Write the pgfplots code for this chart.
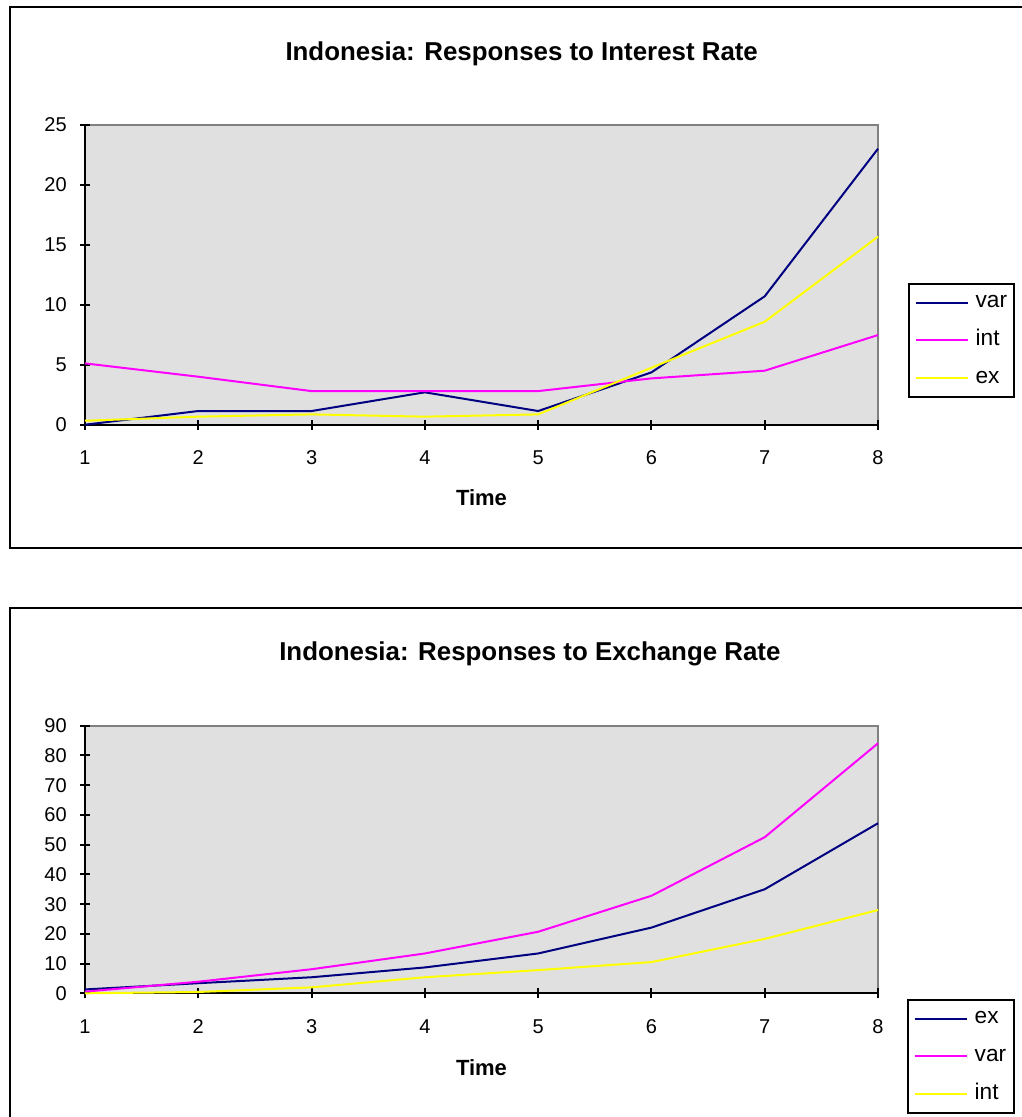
\documentclass[border=0pt]{standalone}
\usepackage{pgfplots}
\pgfplotsset{compat=1.18}
\usepackage{fontspec}
\setmainfont{Liberation Sans}
\definecolor{plotbg}{RGB}{224,224,224}
\definecolor{navyc}{RGB}{0,0,128}
\definecolor{magc}{RGB}{255,0,255}
\definecolor{yelc}{RGB}{255,255,0}
\definecolor{bordg}{RGB}{128,128,128}

\pgfplotsset{
  mystyle/.style={
    scale only axis,
    width=594.75pt,
    xmin=1, xmax=8,
    xtick={1,2,3,4,5,6,7,8},
    axis lines*=left,
    axis line style={black, line width=1.5pt, -},
    every outer x axis line/.append style={-},
    every outer y axis line/.append style={-},
    axis background/.style={fill=plotbg, draw=bordg, line width=1.5pt},
    tick align=center,
    major tick length=7.5pt,
    tick style={black, line width=1.5pt},
    /pgf/number format/assume math mode=true,
    ticklabel style={font=\fontsize{15}{18}\selectfont},
    yticklabel style={anchor=east, inner sep=0pt, xshift=-9.75pt},
    xticklabel style={anchor=north, inner sep=0pt, yshift=-15.5pt},
    title style={font=\bfseries\fontsize{19.4}{23}\selectfont, anchor=base},
    xlabel style={font=\bfseries\fontsize{16.5}{19}\selectfont, anchor=base},
    clip=false,
    legend cell align=left,
    legend image code/.code={\draw[#1] (0pt,0pt) -- (39pt,0pt);},
    legend style={draw=black, line width=1.5pt, fill=white,
      font=\fontsize{17}{20}\selectfont,
      inner xsep=4.5pt, inner ysep=6pt, row sep=11.8pt,
      nodes={inner sep=1pt, text height=11pt, text depth=3.5pt},
      /tikz/every odd column/.append style={column sep=4pt}},
  },
  ser/.style={line width=1.5pt, no markers, sharp plot},
}

\begin{document}
\begin{tikzpicture}
\useasboundingbox (0pt,0pt) rectangle (765.75pt,-837.75pt);
\draw[black, line width=1.5pt] (7.5pt,-5.5pt) rectangle (768pt,-411pt);
\draw[black, line width=1.5pt] (7.5pt,-456pt) rectangle (768pt,-842pt);

\begin{axis}[mystyle,
  at={(63.75pt,-318.525pt)}, anchor=south west,
  height=225pt,
  ymin=0, ymax=25, ytick={0,5,10,15,20,25},
  title={Indonesia: Responses to Interest Rate},
  title style={at={(axis description cs:0.5507,1.188)}},
  xlabel={Time},
  xlabel style={at={(axis description cs:0.5,-0.2697)}},
  legend style={at={(1.0378,0.2807)}, anchor=west},
]
\addplot[ser, color=navyc] coordinates {(1,0) (2,1.14) (3,1.14) (4,2.7) (5,1.14) (6,4.36) (7,10.7) (8,23.0)};
\addlegendentry{var}
\addplot[ser, color=magc] coordinates {(1,5.11) (2,4.0) (3,2.8) (4,2.8) (5,2.8) (6,3.86) (7,4.5) (8,7.47)};
\addlegendentry{int}
\addplot[ser, color=yelc] coordinates {(1,0.33) (2,0.67) (3,0.86) (4,0.67) (5,0.86) (6,4.75) (7,8.58) (8,15.67)};
\addlegendentry{ex}
\end{axis}

\begin{axis}[mystyle,
  at={(63.75pt,-744.975pt)}, anchor=south west,
  height=200.7pt,
  ymin=0, ymax=90, ytick={0,10,20,30,40,50,60,70,80,90},
  title={Indonesia: Responses to Exchange Rate},
  title style={at={(axis description cs:0.561,1.2155)}},
  xlabel={Time},
  xlabel style={at={(axis description cs:0.5,-0.3053)}},
  legend style={at={(1.0366,-0.2361)}, anchor=west},
]
\addplot[ser, color=navyc] coordinates {(1,1.3) (2,3.4) (3,5.4) (4,8.7) (5,13.4) (6,22.1) (7,35.0) (8,57.2)};
\addlegendentry{ex}
\addplot[ser, color=magc] coordinates {(1,0.56) (2,3.9) (3,8.1) (4,13.4) (5,20.7) (6,32.8) (7,52.5) (8,84.1)};
\addlegendentry{var}
\addplot[ser, color=yelc] coordinates {(1,0) (2,0.45) (3,2.0) (4,5.4) (5,7.8) (6,10.5) (7,18.3) (8,28.0)};
\addlegendentry{int}
\end{axis}
\end{tikzpicture}
\end{document}
